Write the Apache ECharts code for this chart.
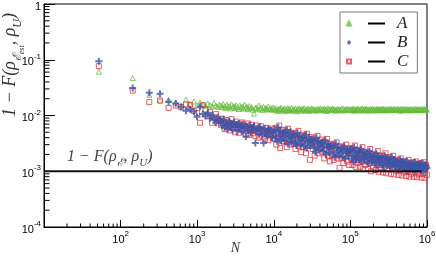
<!DOCTYPE html>
<html><head><meta charset="utf-8">
<script src="https://cdn.jsdelivr.net/npm/echarts@6/dist/echarts.min.js"></script>
<style>html,body{margin:0;padding:0;background:#fff}#c{width:436px;height:256px}</style>
</head><body><div id="c"></div>
<script>
// Shared sample sizes N (x values)
const nValues = [
52,144,237,327,423,525,618,714,808,902,995,1090,1185,1280,1375,1470,1565,1660,1755,1850,1945,
2040,2110,2190,2270,2350,2440,2520,2620,2710,2810,2910,3020,3130,3240,3360,3480,3610,3740,3870,4020,4160,4320,4470,4630,4800,4980,5150,5350,5530,5740,5940,6170,6380,6620,6850,7110,7360,7640,7910,8200,8490,8810,9120,9460,9790,
10190,10490,10790,11110,11430,11770,12110,12460,12830,13200,
13590,13980,14390,14810,15240,15690,16150,16620,17100,17600,
18120,18650,19190,19750,20330,20920,21530,22160,22810,23470,
24160,24860,25590,26340,27110,27900,28710,29550,30420,31300,
32220,33160,34130,35120,36150,37210,38290,39410,40560,41750,
42960,44220,45510,46840,48210,49610,51060,52560,54090,55670,
57300,58970,60690,62470,64290,66170,68100,70090,72140,74250,
76410,78650,80940,83310,85740,88240,90820,93470,96200,99010,
101900,104300,106700,109200,111700,114300,117000,119700,122500,125300,
128300,131200,134300,137400,140600,143900,147200,150700,154200,157800,
161400,165200,169000,173000,177000,181100,185300,189600,194100,198600,
203200,207900,212800,217700,222800,228000,233300,238700,244300,250000,
255800,261700,267800,274100,280500,287000,293700,300500,307500,314700,
322000,329500,337200,345100,353100,361300,369800,378400,387200,396200,
405400,414900,424500,434400,444500,454900,465500,476300,487400,498800,
510400,522300,534500,546900,559700,572700,586100,599700,613700,628000,
642600,657600,672900,688600,704600,721000,737800,755000,772600,790600,
809100,827900,847200,866900,887100,907800,928900,950600,972700,995400
];
// Series A (green triangles)
const seriesA = [
0.061,0.047,0.0235,0.0186,0.019,0.0171,0.0150,0.0193,0.0160,0.0178,0.0152,0.0170,0.0158,0.0149,0.0163,0.0155,0.0146,0.0168,0.0150,0.0143,0.0157,
0.0152,0.0141,0.0160,0.0146,0.0137,0.0155,0.0143,0.0149,0.0134,0.0158,
0.0140,0.0147,0.0136,0.0153,0.0142,0.0131,0.0150,0.0139,0.0145,0.0133,
0.0156,0.0138,0.0144,0.0130,0.0148,0.0136,0.0141,0.0127,0.0108,0.0135,
0.0140,0.0129,0.0151,0.0133,0.0138,0.0126,0.0143,0.0132,0.0137,0.0128,
0.0145,0.0131,0.0135,0.0127,0.0139,
0.0131,0.0124,0.0136,0.0127,0.0121,0.0133,0.0129,0.0138,0.0123,0.0130,
0.0126,0.0134,0.0120,0.0128,0.0135,0.0125,0.0131,0.0122,0.0137,0.0127,
0.0129,0.0124,0.0133,0.0119,0.0130,0.0126,0.0135,0.0128,0.0122,0.0132,
0.0127,0.0136,0.0123,0.0129,0.0125,0.0133,0.0121,0.0130,0.0127,0.0134,
0.0124,0.0131,0.0126,0.0128,0.0122,0.0133,0.0129,0.0125,0.0135,0.0127,
0.0130,0.0123,0.0132,0.0126,0.0129,0.0121,0.0134,0.0128,0.0124,0.0131,
0.0127,0.0133,0.0125,0.0130,0.0122,0.0128,0.0132,0.0126,0.0129,0.0124,
0.0131,0.0127,0.0134,0.0123,0.0129,0.0126,0.0132,0.0128,0.0125,0.0130,
0.0129,0.0124,0.0131,0.0126,0.0133,0.0122,0.0128,0.0130,0.0125,0.0132,
0.0127,0.0123,0.0129,0.0131,0.0126,0.0134,0.0124,0.0128,0.0130,0.0125,
0.0132,0.0127,0.0122,0.0129,0.0126,0.0131,0.0124,0.0128,0.0133,0.0127,
0.0125,0.0130,0.0123,0.0129,0.0127,0.0132,0.0126,0.0128,0.0124,0.0131,
0.0129,0.0125,0.0133,0.0127,0.0130,0.0123,0.0128,0.0126,0.0131,0.0124,
0.0129,0.0127,0.0132,0.0125,0.0128,0.0130,0.0124,0.0131,0.0126,0.0129,
0.0127,0.0133,0.0125,0.0128,0.0122,0.0130,0.0127,0.0131,0.0124,0.0129,
0.0126,0.0132,0.0128,0.0125,0.0130,0.0127,0.0123,0.0129,0.0131,0.0126,
0.0128,0.0124,0.0130,0.0127,0.0132,0.0125,0.0129,0.0126,0.0131,0.0128,
0.0124,0.0130,0.0127,0.0129,0.0125,0.0132,0.0126,0.0128,0.0130,0.0127
];
// Series B (blue crosses)
const seriesB = [
0.094,0.031,0.0255,0.0245,0.0176,0.0165,0.0142,0.0122,0.0130,0.0118,0.0095,0.0143,0.0106,0.0098,0.0112,0.0089,0.0101,0.0086,0.0074,0.0093,0.0081,
0.0079,0.0066,0.0085,0.0061,0.0073,0.0068,0.0058,0.0080,0.0064,0.0071,
0.0055,0.0076,0.0062,0.0069,0.0053,0.0072,0.0060,0.0066,0.0051,0.0070,
0.0058,0.0042,0.0063,0.0054,0.0067,0.0049,0.0061,0.0056,0.0064,0.0032,
0.0052,0.0059,0.0047,0.0062,0.0053,0.0045,0.0032,0.0057,0.0050,0.0043,
0.0058,0.0047,0.0053,0.0041,0.0049,
0.0056,0.0039,0.0050,0.0034,0.0061,0.0043,0.0053,0.0036,0.0047,0.0041,
0.0049,0.0035,0.0045,0.0055,0.0031,0.0043,0.0038,0.0051,0.0033,0.0040,
0.0046,0.0032,0.0041,0.0029,0.0049,0.0035,0.0043,0.0030,0.0039,0.0034,
0.0041,0.0028,0.0036,0.0045,0.0026,0.0034,0.0039,0.0029,0.0037,0.0031,
0.0037,0.0026,0.0033,0.0022,0.0040,0.0028,0.0035,0.0024,0.0031,0.0027,
0.0033,0.0023,0.0029,0.0036,0.0020,0.0027,0.0031,0.0022,0.0028,0.0025,
0.0029,0.0020,0.0026,0.0018,0.0031,0.0022,0.0027,0.0019,0.0024,0.0021,
0.0026,0.0018,0.0023,0.0028,0.0017,0.0022,0.0025,0.0019,0.0021,0.0024,
0.0025,0.0017,0.0022,0.0015,0.0027,0.0019,0.0023,0.0016,0.0021,0.0018,
0.0023,0.0016,0.0021,0.0025,0.0015,0.0019,0.0022,0.0017,0.0020,0.0018,
0.0021,0.0015,0.0019,0.0014,0.0023,0.0017,0.0020,0.0015,0.0018,0.0016,
0.0019,0.0014,0.0017,0.0021,0.0013,0.0016,0.0018,0.0014,0.0017,0.0015,
0.0018,0.0013,0.0016,0.0012,0.0019,0.0015,0.0017,0.0013,0.0016,0.0014,
0.0016,0.0012,0.0015,0.0018,0.0012,0.0014,0.0016,0.0013,0.0015,0.0013,
0.0015,0.0011,0.0014,0.0012,0.0016,0.0013,0.0015,0.0011,0.0014,0.0012,
0.00145,0.00110,0.00132,0.00150,0.00105,0.00125,0.00140,0.00115,0.00130,0.00120,
0.00138,0.00108,0.00127,0.00143,0.00102,0.00122,0.00135,0.00112,0.00128,0.00117,
0.00135,0.00104,0.00124,0.00140,0.00100,0.00119,0.00131,0.00109,0.00126,0.00114
];
// Series C (red squares)
const seriesC = [
0.077,0.028,0.0174,0.0185,0.0137,0.0150,0.0141,0.0158,0.0155,0.0121,0.0111,0.0074,0.0153,0.0128,0.0098,0.0115,0.0074,0.0092,0.0106,0.0087,0.0079,
0.0068,0.0088,0.0074,0.0057,0.0083,0.0063,0.0076,0.0054,0.0070,0.0086,
0.0060,0.0067,0.0050,0.0078,0.0063,0.0049,0.0071,0.0057,0.0075,0.0053,
0.0066,0.0046,0.0059,0.0072,0.0045,0.0058,0.0068,0.0048,0.0055,0.0043,
0.0066,0.0050,0.0040,0.0057,0.0064,0.0042,0.0053,0.0038,0.0060,0.0047,
0.0036,0.0055,0.0044,0.0058,0.0039,
0.0038,0.0060,0.0030,0.0050,0.0041,0.0066,0.0026,0.0047,0.0035,0.0055,
0.0033,0.0052,0.0046,0.0027,0.0058,0.0037,0.0044,0.0030,0.0049,0.0039,
0.0031,0.0048,0.0025,0.0042,0.0034,0.0053,0.0028,0.0040,0.0022,0.0045,
0.0027,0.0043,0.0035,0.0021,0.0047,0.0030,0.0038,0.0016,0.0032,0.0041,
0.0025,0.0039,0.0019,0.0034,0.0028,0.0043,0.0021,0.0032,0.0026,0.0037,
0.0022,0.0034,0.0017,0.0029,0.0024,0.0038,0.0019,0.0027,0.0015,0.0031,
0.0019,0.0030,0.0016,0.0026,0.0021,0.0033,0.0017,0.0024,0.00115,0.0028,
0.0017,0.0027,0.0014,0.0023,0.0019,0.0030,0.0015,0.0022,0.0013,0.0025,
0.0017,0.0026,0.0013,0.0021,0.0016,0.0029,0.0012,0.0019,0.0023,0.0014,
0.0016,0.0024,0.0012,0.0020,0.0015,0.0027,0.0011,0.0018,0.0022,0.0013,
0.0015,0.0022,0.0011,0.0019,0.0014,0.0025,0.00100,0.0017,0.0020,0.0012,
0.0014,0.0020,0.00105,0.0017,0.0013,0.0023,0.00098,0.0016,0.0019,0.00115,
0.0013,0.0019,0.00095,0.0016,0.0012,0.0021,0.00092,0.0015,0.0018,0.00108,
0.00125,0.0017,0.00090,0.0015,0.00112,0.0019,0.00088,0.0014,0.0016,0.00100,
0.00118,0.0016,0.00086,0.0014,0.00105,0.0017,0.00084,0.00130,0.0015,0.00095,
0.00112,0.00150,0.00082,0.00128,0.00098,0.00160,0.00080,0.00122,0.00140,0.00090,
0.00106,0.00145,0.00080,0.00120,0.00094,0.00150,0.00078,0.00115,0.00135,0.00088,
0.00102,0.00140,0.00077,0.00118,0.00090,0.00145,0.00076,0.00110,0.00130,0.00085
];
// Reference level 1 - F(rho_E, rho_U)
const refLevel = 0.001;
const refLineN = [10, 850000];
const seriesNames = ['A', 'B', 'C'];

const zip = vals => nValues.map((n, i) => [n, vals[i]]);

const colA = '#66bb3c', colB = '#3a52a8', colC = '#e8333c';
const serif = "'Liberation Serif','DejaVu Serif',serif";
const sans = "'Liberation Sans',Arial,sans-serif";

// minor tick positions (axis decoration)
const tickData = [];
for (let e = 1; e < 6; e++) for (let k = 2; k <= 9; k++) tickData.push([k * Math.pow(10, e), 1e-4, 0]);
for (let e = -4; e < 0; e++) for (let k = 2; k <= 9; k++) tickData.push([10, k * Math.pow(10, e), 1]);

const supRich = {
  b: {fontSize: 11, fontFamily: sans, color: '#000', lineHeight: 14, verticalAlign: 'top', padding: [4, 0, 0, 0]},
  s: {fontSize: 8, fontFamily: sans, color: '#000', lineHeight: 9, verticalAlign: 'top'}
};

const chart = echarts.init(document.getElementById('c'), null, {renderer: 'canvas'});
chart.setOption({
  animation: false,
  backgroundColor: '#fff',
  grid: {left: 44, right: 9, top: 4, bottom: 29, show: true, borderColor: '#000', borderWidth: 1, outerBoundsMode: 'none', containLabel: false},
  xAxis: {
    type: 'log', logBase: 10, min: 10, max: 1e6,
    name: 'N', nameLocation: 'middle', nameGap: 14, nameMoveOverlap: false,
    nameTextStyle: {fontFamily: serif, fontStyle: 'italic', fontSize: 14, color: '#333', verticalAlign: 'top'},
    axisLine: {lineStyle: {color: '#000', width: 1}},
    axisTick: {inside: true, length: 7, lineStyle: {color: '#000'}},
    splitLine: {show: false},
    axisLabel: {
      margin: 3,
      formatter: v => { const e = Math.round(Math.log10(v)); return e === 1 ? '' : '{b|10}{s|' + e + '}'; },
      rich: supRich
    }
  },
  yAxis: {
    type: 'log', logBase: 10, min: 1e-4, max: 1,
    axisLine: {lineStyle: {color: '#000', width: 1}},
    axisTick: {inside: true, length: 11, lineStyle: {color: '#000'}},
    splitLine: {show: false},
    axisLabel: {
      margin: 3,
      formatter: v => { const e = Math.round(Math.log10(v)); return e === 0 ? '{b|1}' : '{b|10}{s|' + e + '}'; },
      rich: supRich
    }
  },
  legend: {
    data: seriesNames, orient: 'vertical', left: 340, top: 12,
    padding: [3, 9, 3, 6], itemGap: 2, itemWidth: 4, itemHeight: 4,
    backgroundColor: '#fff', borderColor: '#777', borderWidth: 1,
    formatter: name => '{sp|}{ln|}{sp|}{nm|' + name + '}',
    textStyle: {
      rich: {
        sp: {width: 12, height: 2},
        ln: {width: 17, height: 2, backgroundColor: '#000'},
        nm: {fontFamily: serif, fontStyle: 'italic', fontSize: 17, color: '#222', lineHeight: 16}
      }
    }
  },
  graphic: [
    {
      type: 'text', x: 12, y: 65, rotation: Math.PI / 2,
      style: {
        text: '{m|1 − F(ρ}{s|ℰ}{ss|est}{m|, ρ}{s2|U}{m|)}',
        align: 'center', verticalAlign: 'middle',
        rich: {
          m: {fontFamily: serif, fontStyle: 'italic', fontSize: 18, fill: '#333', lineHeight: 21, verticalAlign: 'top'},
          s: {fontFamily: serif, fontStyle: 'italic', fontSize: 12, fill: '#333', lineHeight: 12, verticalAlign: 'top', padding: [10, 0, 0, 0]},
          ss: {fontFamily: serif, fontStyle: 'italic', fontSize: 8, fill: '#333', lineHeight: 8, verticalAlign: 'top', padding: [16, 0, 0, 0]},
          s2: {fontFamily: serif, fontStyle: 'italic', fontSize: 12, fill: '#333', lineHeight: 12, verticalAlign: 'top', padding: [10, 0, 0, 0]}
        }
      }
    },
    {
      type: 'text', x: 67, y: 158,
      style: {
        text: '{m|1 − F(ρ}{s|ℰ}{m|, ρ}{s|U}{m|)}',
        align: 'left', verticalAlign: 'middle',
        rich: {
          m: {fontFamily: serif, fontStyle: 'italic', fontSize: 16, fill: '#444', lineHeight: 19, verticalAlign: 'top'},
          s: {fontFamily: serif, fontStyle: 'italic', fontSize: 11, fill: '#444', lineHeight: 11, verticalAlign: 'top', padding: [9, 0, 0, 0]}
        }
      }
    }
  ],
  series: [
    {
      name: 'A', type: 'scatter', data: zip(seriesA), symbol: 'triangle', symbolSize: 5,
      itemStyle: {color: 'transparent', borderColor: colA, borderWidth: 1}, emphasis: {disabled: true}
    },
    {
      name: 'C', type: 'scatter', data: zip(seriesC), symbol: 'rect', symbolSize: 5,
      itemStyle: {color: 'transparent', borderColor: colC, borderWidth: 1}, emphasis: {disabled: true}
    },
    {
      name: 'B', type: 'scatter', data: zip(seriesB), symbol: 'path://M5,0L5,10M0,5L10,5', symbolSize: 7,
      itemStyle: {color: 'transparent', borderColor: colB, borderWidth: 2}, emphasis: {disabled: true}
    },
    {
      name: 'ref', type: 'line', data: refLineN.map(n => [n, refLevel]), symbol: 'none',
      lineStyle: {color: '#111', width: 2}, z: 5, silent: true
    },
    {
      name: 'ticks', type: 'custom', data: tickData, clip: false, silent: true, z: 6,
      renderItem: (params, api) => {
        const p = api.coord([api.value(0), api.value(1)]);
        const kind = api.value(2);
        const shape = kind === 0
          ? {x1: p[0], y1: p[1], x2: p[0], y2: p[1] - 3.5}
          : {x1: p[0], y1: p[1], x2: p[0] + 5.5, y2: p[1]};
        return {type: 'line', shape, style: {stroke: '#000', lineWidth: 1}};
      }
    }
  ]
});
</script></body></html>
